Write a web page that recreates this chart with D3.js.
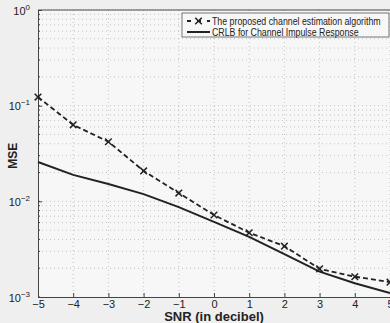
<!DOCTYPE html>
<html>
<head>
<meta charset="utf-8">
<script src="https://cdn.jsdelivr.net/npm/d3@7"></script>
<style>
  body { margin: 0; background: #efefef; }
  svg { display: block; font-family: "Liberation Sans", Arial, sans-serif; }
</style>
</head>
<body>
<div id="chart"></div>
<script>
var snr = [-5, -4, -3, -2, -1, 0, 1, 2, 3, 4, 5];
var proposed = [0.123, 0.063, 0.042, 0.0208, 0.0122, 0.0072, 0.0047, 0.0034, 0.00197, 0.00163, 0.00143];
var crlb = [0.0258, 0.0189, 0.0152, 0.0119, 0.0087, 0.0061, 0.00425, 0.0028, 0.00184, 0.00139, 0.0011];
var xTicks = [-5, -4, -3, -2, -1, 0, 1, 2, 3, 4, 5];
var yTicks = [0, -1, -2, -3];
var legendLabels = ["The proposed channel estimation algorithm", "CRLB for Channel Impulse Response"];

var svgWidth = 390, svgHeight = 323;
var margin = { top: 10, right: 0, bottom: 26, left: 38 };
var width = 352;
var height = svgHeight - margin.top - margin.bottom;

var svg = d3.select("#chart").append("svg")
  .attr("width", svgWidth)
  .attr("height", svgHeight);

var chartGroup = svg.append("g")
  .attr("transform", `translate(${margin.left}, ${margin.top})`);

var x = d3.scaleLinear().domain([-5, 5]).range([0, width]);
var y = d3.scaleLog().domain([1e-3, 1]).range([height, 0]);

chartGroup.append("rect")
  .attr("width", width).attr("height", height)
  .attr("fill", "#f7f7f7");

// grid lines
var minor = [];
for (var e = -3; e < 0; e++) {
  for (var m = 1; m <= 9; m++) minor.push(m * Math.pow(10, e));
}
chartGroup.selectAll(".hgrid").data(minor.slice(1)).enter().append("line")
  .attr("x1", 0).attr("x2", width)
  .attr("y1", d => y(d)).attr("y2", d => y(d))
  .attr("stroke", "#a0a0a0").attr("stroke-width", 0.6)
  .attr("stroke-dasharray", "1,3");
chartGroup.selectAll(".vgrid").data(xTicks.slice(1)).enter().append("line")
  .attr("y1", 0).attr("y2", height)
  .attr("x1", d => x(d)).attr("x2", d => x(d))
  .attr("stroke", "#a0a0a0").attr("stroke-width", 0.6)
  .attr("stroke-dasharray", "1,3");

// axes
var bottomAxis = d3.axisBottom(x).tickValues(xTicks).tickSize(-4)
  .tickFormat(d => d < 0 ? "\u2212" + (-d) : d);
var xAxis = chartGroup.append("g")
  .attr("transform", `translate(0, ${height})`)
  .call(bottomAxis);
xAxis.selectAll("text").attr("dy", "0.7em").attr("y", 3).attr("font-size", "11px").attr("fill", "#222");

var leftAxis = d3.axisLeft(y).tickValues(yTicks.map(p => Math.pow(10, p))).tickSize(-4).tickFormat("");
var yAxis = chartGroup.append("g").call(leftAxis);
yAxis.selectAll(".tick").each(function(d) {
  var t = d3.select(this).append("text")
    .attr("x", -8).attr("y", 4)
    .attr("text-anchor", "end")
    .attr("fill", "#222")
    .attr("font-size", "11px");
  t.append("tspan").text("10");
  t.append("tspan").attr("dy", -5).attr("font-size", "8px").text(Math.round(Math.log10(d)) === 0 ? "0" : "\u2212" + (-Math.round(Math.log10(d))));
});
// minor y ticks
chartGroup.selectAll(".ymt").data(minor).enter().append("line")
  .attr("x1", 0).attr("x2", 2)
  .attr("y1", d => y(d)).attr("y2", d => y(d))
  .attr("stroke", "#444");

[xAxis, yAxis].forEach(function(a) {
  a.select(".domain").attr("stroke", "#444");
  a.selectAll(".tick line").attr("stroke", "#444");
});
chartGroup.append("line").attr("x1", 0).attr("x2", width).attr("y1", 0).attr("y2", 0).attr("stroke", "#444");

// series
var line = d3.line().x((d, i) => x(snr[i])).y(d => y(d));
chartGroup.append("path").datum(crlb)
  .attr("d", line).attr("fill", "none")
  .attr("stroke", "#222").attr("stroke-width", 2);
chartGroup.append("path").datum(proposed)
  .attr("d", line).attr("fill", "none")
  .attr("stroke", "#222").attr("stroke-width", 1.8)
  .attr("stroke-dasharray", "5,3");
var cross = d3.symbol().type(d3.symbolX).size(30);
chartGroup.selectAll(".mk").data(proposed).enter().append("path")
  .attr("transform", (d, i) => `translate(${x(snr[i])}, ${y(d)})`)
  .attr("d", cross).attr("fill", "none")
  .attr("stroke", "#222").attr("stroke-width", 1.5);

// legend
var lg = svg.append("g").attr("transform", "translate(182, 13)");
lg.append("rect").attr("width", 207).attr("height", 24)
  .attr("fill", "#f7f7f7").attr("stroke", "#555").attr("stroke-width", 0.8);
lg.append("line").attr("x1", 5).attr("x2", 28).attr("y1", 8).attr("y2", 8)
  .attr("stroke", "#222").attr("stroke-width", 1.8).attr("stroke-dasharray", "4,6");
lg.append("path").attr("transform", "translate(16.5, 8)").attr("d", cross)
  .attr("stroke", "#222").attr("stroke-width", 1.5);
lg.append("line").attr("x1", 5).attr("x2", 28).attr("y1", 19).attr("y2", 19)
  .attr("stroke", "#222").attr("stroke-width", 2);
// squeeze the legend text to match the narrow scanned font
lg.selectAll(".lt").data(legendLabels).enter().append("g")
  .attr("transform", (d, i) => `translate(30, ${12 + i * 11}) scale(0.8, 1)`)
  .append("text")
  .attr("font-size", "11px").attr("fill", "#222")
  .text(d => d);

// axis titles
svg.append("text")
  .attr("x", margin.left + x(0)).attr("y", 321)
  .attr("text-anchor", "middle")
  .attr("font-size", "13px").attr("font-weight", "bold").attr("fill", "#222")
  .text("SNR (in decibel)");
svg.append("text")
  .attr("transform", `translate(17, ${margin.top + y(0.03)}) rotate(-90)`)
  .attr("text-anchor", "middle")
  .attr("font-size", "12px").attr("font-weight", "bold").attr("fill", "#222")
  .text("MSE");
</script>
</body>
</html>
